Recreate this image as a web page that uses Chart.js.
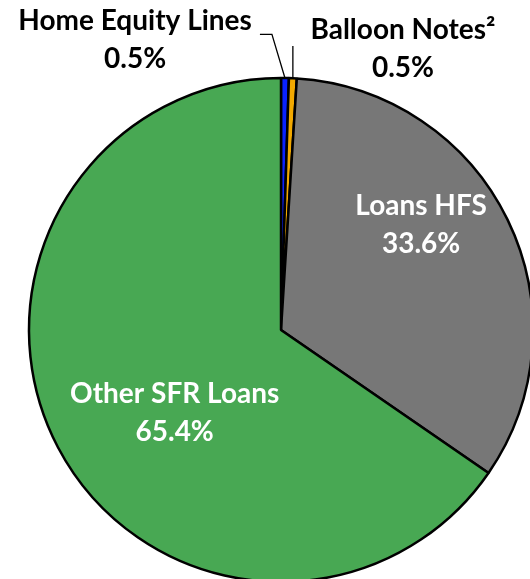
<!DOCTYPE html>
<html>
<head>
<meta charset="utf-8">
<script src="https://cdn.jsdelivr.net/npm/chart.js@4"></script>
<style>
  html, body { margin: 0; padding: 0; overflow: hidden; background: #fff; }
  #wrap { position: absolute; left: 0; top: 0; width: 562px; height: 660px; }
</style>
</head>
<body>
<div id="wrap"><canvas id="pieChart"></canvas></div>
<script>
// slices clockwise from 12 o'clock
const categories = ['Home Equity Lines', 'Balloon Notes\u00B2', 'Loans HFS', 'Other SFR Loans'];
const shares = [0.5, 0.5, 33.6, 65.4];
const sliceColors = ['#0a22ff', '#f2a900', '#777777', '#48a853'];

// label placement, as fractions of the radius from the pie centre
const labelPlaces = [
  { x: -0.579, y: -1.19, color: '#000', lead: { x: -0.036, y: -1.173 } },
  { x: 0.484, y: -1.155, color: '#000', lead: { x: 0.05, y: -1.127 } },
  { x: 0.556, y: -0.456, color: '#fff' },
  { x: -0.422, y: 0.29, color: '#fff' },
];

const pieLabels = {
  id: 'pieLabels',
  afterDraw(chart) {
    const ctx = chart.ctx;
    const arcs = chart.getDatasetMeta(0).data;
    ctx.save();
    ctx.font = 'bold 28px Lato';
    ctx.textAlign = 'center';
    ctx.textBaseline = 'alphabetic';
    arcs.forEach((arc, i) => {
      const { x, y, outerRadius: r, startAngle, endAngle } = arc.getProps(['x', 'y', 'outerRadius', 'startAngle', 'endAngle'], true);
      const place = labelPlaces[i];
      const lx = x + place.x * r;
      const ly = y + place.y * r;
      if (place.lead) {
        const mid = (startAngle + endAngle) / 2;
        const ex = x + Math.cos(mid) * r;
        const ey = y + Math.sin(mid) * r;
        const bx = x + place.lead.x * r;
        const by = y + place.lead.y * r;
        ctx.strokeStyle = '#000';
        ctx.lineWidth = 1.3;
        ctx.beginPath();
        if (i === 0) {
          ctx.moveTo(bx - 12, by);
          ctx.lineTo(bx, by);
        } else {
          ctx.moveTo(ex, by);
        }
        ctx.lineTo(ex, ey);
        ctx.stroke();
      }
      ctx.fillStyle = place.color;
      ctx.fillText(categories[i], lx, ly);
      ctx.fillText(shares[i].toFixed(1) + '%', lx, ly + 38);
    });
    ctx.restore();
  }
};

new Chart(document.getElementById('pieChart'), {
  type: 'pie',
  data: {
    labels: categories,
    datasets: [{
      data: shares,
      backgroundColor: sliceColors,
      borderColor: '#000',
      borderWidth: 2.5,
      radius: 252,
    }],
  },
  options: {
    responsive: true,
    maintainAspectRatio: false,
    animation: false,
    layout: { padding: 0 },
    plugins: {
      legend: { display: false },
      tooltip: { enabled: false },
    },
  },
  plugins: [pieLabels],
});
</script>
</body>
</html>
